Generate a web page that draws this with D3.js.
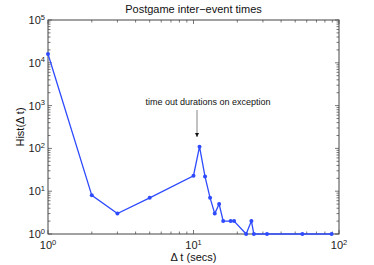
<!DOCTYPE html>
<html>
<head>
<meta charset="utf-8">
<script src="https://cdn.jsdelivr.net/npm/d3@7"></script>
<style>
body { margin: 0; background: #fff; }
svg { font-family: "Liberation Sans", Arial, sans-serif; }
</style>
</head>
<body>
<svg width="374" height="265"></svg>
<script>
const deltaT = [1, 2, 3, 5, 10, 11, 12, 13, 14, 15, 16, 18, 19, 23, 25, 26, 32, 56, 89];
const counts = [16000, 8, 3, 7, 23, 110, 22, 7, 3, 5, 2, 2, 2, 1, 2, 1, 1, 1, 1];
const xTickExp = [0, 1, 2];
const yTickExp = [0, 1, 2, 3, 4, 5];

const margin = { top: 20, right: 35, bottom: 31, left: 48 };
const width = 374 - margin.left - margin.right;
const height = 265 - margin.top - margin.bottom;

const svg = d3.select('svg');
const chart = svg.append('g').attr('transform', `translate(${margin.left}, ${margin.top})`);

const xScale = d3.scaleLog().domain([1, 100]).range([0, width]);
const yScale = d3.scaleLog().domain([1, 1e5]).range([height, 0]);

// minor + major ticks, drawn inward on all four sides
const xTicks = xScale.ticks();
const yTicks = yScale.ticks();
const isMajor = (v) => Math.abs(Math.log10(v) - Math.round(Math.log10(v))) < 1e-9;

const ticks = chart.append('g').attr('stroke', '#555').attr('stroke-width', 0.8);
xTicks.forEach((v) => {
  const len = isMajor(v) ? 4 : 2.5;
  ticks.append('line').attr('x1', xScale(v)).attr('x2', xScale(v)).attr('y1', height).attr('y2', height - len);
  ticks.append('line').attr('x1', xScale(v)).attr('x2', xScale(v)).attr('y1', 0).attr('y2', len);
});
yTicks.forEach((v) => {
  const len = isMajor(v) ? 4 : 2.5;
  ticks.append('line').attr('y1', yScale(v)).attr('y2', yScale(v)).attr('x1', 0).attr('x2', len);
  ticks.append('line').attr('y1', yScale(v)).attr('y2', yScale(v)).attr('x1', width).attr('x2', width - len);
});

chart.append('rect')
  .attr('width', width)
  .attr('height', height)
  .attr('fill', 'none')
  .attr('stroke', '#444')
  .attr('stroke-width', 1);

// tick labels 10^n
xTickExp.forEach((e) => {
  const t = chart.append('text')
    .attr('x', xScale(Math.pow(10, e)))
    .attr('y', height + 15)
    .attr('text-anchor', 'middle')
    .attr('font-size', 11)
    .attr('fill', '#222');
  t.append('tspan').text('10');
  t.append('tspan').attr('dy', -4.5).attr('font-size', 7.5).text(e);
});
yTickExp.forEach((e) => {
  const t = chart.append('text')
    .attr('x', -3)
    .attr('y', yScale(Math.pow(10, e)) + 4)
    .attr('text-anchor', 'end')
    .attr('font-size', 11)
    .attr('fill', '#222');
  t.append('tspan').text('10');
  t.append('tspan').attr('dy', -4.5).attr('font-size', 7.5).text(e);
});

const line = d3.line()
  .x((d, i) => xScale(deltaT[i]))
  .y((d) => yScale(d));

chart.append('path')
  .datum(counts)
  .attr('d', line)
  .attr('fill', 'none')
  .attr('stroke', '#2e4bff')
  .attr('stroke-width', 1.3);

chart.selectAll('circle')
  .data(counts)
  .enter()
  .append('circle')
  .attr('cx', (d, i) => xScale(deltaT[i]))
  .attr('cy', (d) => yScale(d))
  .attr('r', 2)
  .attr('fill', '#2e4bff');

// annotation
svg.append('text')
  .attr('x', 208)
  .attr('y', 105)
  .attr('text-anchor', 'middle')
  .attr('font-size', 9)
  .attr('fill', '#111')
  .text('time out durations on exception');

svg.append('defs').append('marker')
  .attr('id', 'ah')
  .attr('viewBox', '0 0 10 10')
  .attr('refX', 10)
  .attr('refY', 5)
  .attr('markerWidth', 5)
  .attr('markerHeight', 5)
  .attr('orient', 'auto')
  .append('path')
  .attr('d', 'M0,0 L10,5 L0,10 z')
  .attr('fill', '#111');

svg.append('line')
  .attr('x1', 197)
  .attr('y1', 110)
  .attr('x2', 197)
  .attr('y2', 137)
  .attr('stroke', '#666')
  .attr('stroke-width', 0.8)
  .attr('marker-end', 'url(#ah)');

// title and axis labels
svg.append('text')
  .attr('x', margin.left + width / 2)
  .attr('y', 13)
  .attr('text-anchor', 'middle')
  .attr('font-size', 11)
  .attr('fill', '#111')
  .text('Postgame inter\u2212event times');

svg.append('text')
  .attr('x', margin.left + width / 2)
  .attr('y', 261)
  .attr('text-anchor', 'middle')
  .attr('font-size', 11)
  .attr('fill', '#111')
  .text('\u0394 t (secs)');

svg.append('text')
  .attr('transform', `translate(24, ${margin.top + height / 2}) rotate(-90)`)
  .attr('text-anchor', 'middle')
  .attr('font-size', 11)
  .attr('fill', '#111')
  .text('Hist(\u0394 t)');
</script>
</body>
</html>
